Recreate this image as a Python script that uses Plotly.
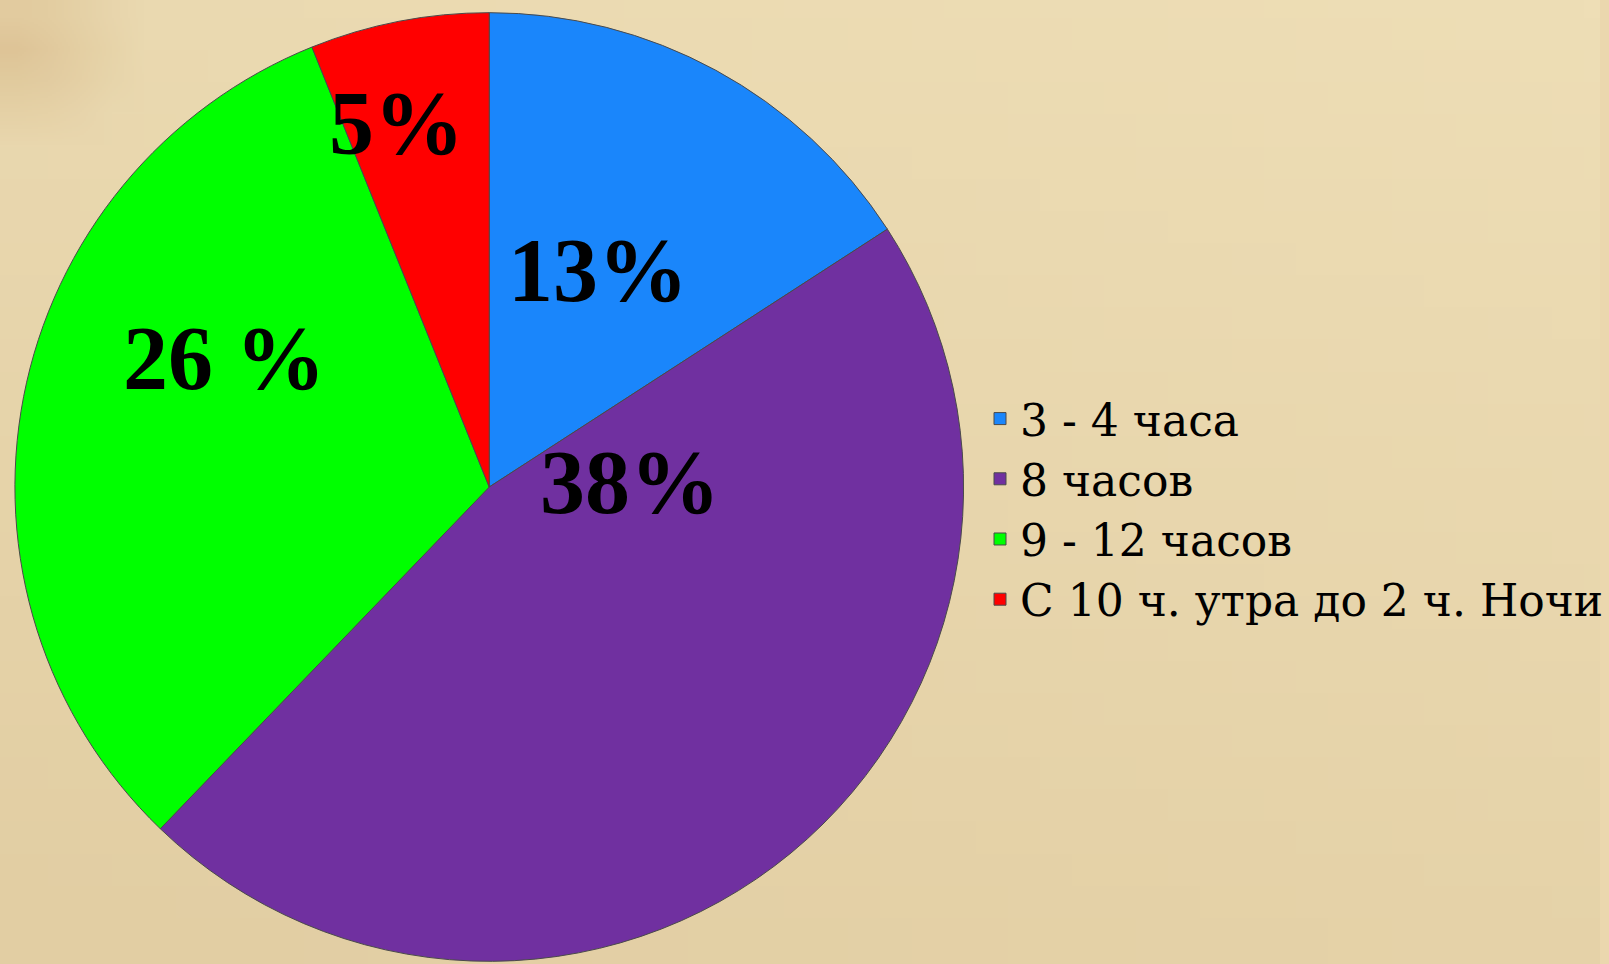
import base64
import struct
import zlib

import numpy as np
import plotly.graph_objects as go

# Sleep-duration survey shares
categories = ["3 - 4 часа", "8 часов", "9 - 12 часов", "С 10 ч. утра до 2 ч. Ночи"]
values = [13, 38, 26, 5]
label_formats = ["{}%", "{}%", "{} %", "{}%"]
colors = ["#1a86fb", "#7030a0", "#00ff00", "#ff0000"]

# Where each percentage label sits (paper coordinates)
label_pos = [(0.374, 0.719), (0.394, 0.499), (0.140, 0.628), (0.248, 0.872)]

W, H = 1609, 964


def png_uri(rgb):
    """Encode an (h, w, 3) uint8 array as a PNG data URI."""
    h, w, _ = rgb.shape
    raw = b"".join(b"\x00" + rgb[r].tobytes() for r in range(h))

    def chunk(tag, data):
        c = struct.pack(">I", len(data)) + tag + data
        return c + struct.pack(">I", zlib.crc32(tag + data) & 0xFFFFFFFF)

    png = (b"\x89PNG\r\n\x1a\n"
           + chunk(b"IHDR", struct.pack(">IIBBBBB", w, h, 8, 2, 0, 0, 0))
           + chunk(b"IDAT", zlib.compress(raw, 9))
           + chunk(b"IEND", b""))
    return "data:image/png;base64," + base64.b64encode(png).decode()


# Warm parchment backdrop: lighter towards the top-right, deeper at the bottom
gh, gw = 30, 50
yy, xx = np.mgrid[0:gh, 0:gw]
t = (yy / (gh - 1)) * 0.7 + (1 - xx / (gw - 1)) * 0.3
light = np.array([238, 222, 182], float)
dark = np.array([226, 206, 163], float)
bg = light[None, None, :] * (1 - t[..., None]) + dark[None, None, :] * t[..., None]
# faint brown smudge in the upper-left corner
d = np.sqrt(((xx - 0) / 4.0) ** 2 + ((yy - 1) / 3.0) ** 2)
smudge = np.clip(1 - d, 0, 1)[..., None] * 0.35
bg = bg * (1 - smudge) + np.array([200, 160, 105], float) * smudge
bg_uri = png_uri(np.clip(bg, 0, 255).astype(np.uint8))

fig = go.Figure(
    go.Pie(
        labels=categories,
        values=values,
        sort=False,
        direction="clockwise",
        rotation=0,
        marker=dict(colors=colors, line=dict(color="#4a4a4a", width=1)),
        textinfo="none",
        hoverinfo="label+value",
        domain=dict(x=[15 / W, 969 / W], y=[2 / H, 1 - 12 / H]),
    )
)

for v, fmt, (px, py) in zip(values, label_formats, label_pos):
    fig.add_annotation(
        x=px, y=py, xref="paper", yref="paper",
        text="<b>" + fmt.format(v) + "</b>", showarrow=False,
        xanchor="center", yanchor="middle",
        font=dict(family="Liberation Serif", size=90, color="#000000"),
    )

fig.add_layout_image(
    dict(source=bg_uri, xref="paper", yref="paper", x=0, y=1,
         sizex=1, sizey=1, sizing="stretch", xanchor="left", yanchor="top",
         layer="below")
)

fig.update_layout(
    width=W,
    height=H,
    margin=dict(l=0, r=0, t=0, b=0),
    paper_bgcolor="#ebd7ae",
    plot_bgcolor="rgba(0,0,0,0)",
    showlegend=True,
    legend=dict(
        x=0.6125, y=0.472, xanchor="left", yanchor="middle",
        bgcolor="rgba(0,0,0,0)", borderwidth=0,
        font=dict(family="DejaVu Serif", size=44, color="#000000"),
        traceorder="normal",
    ),
)

fig.write_html("out.html")
